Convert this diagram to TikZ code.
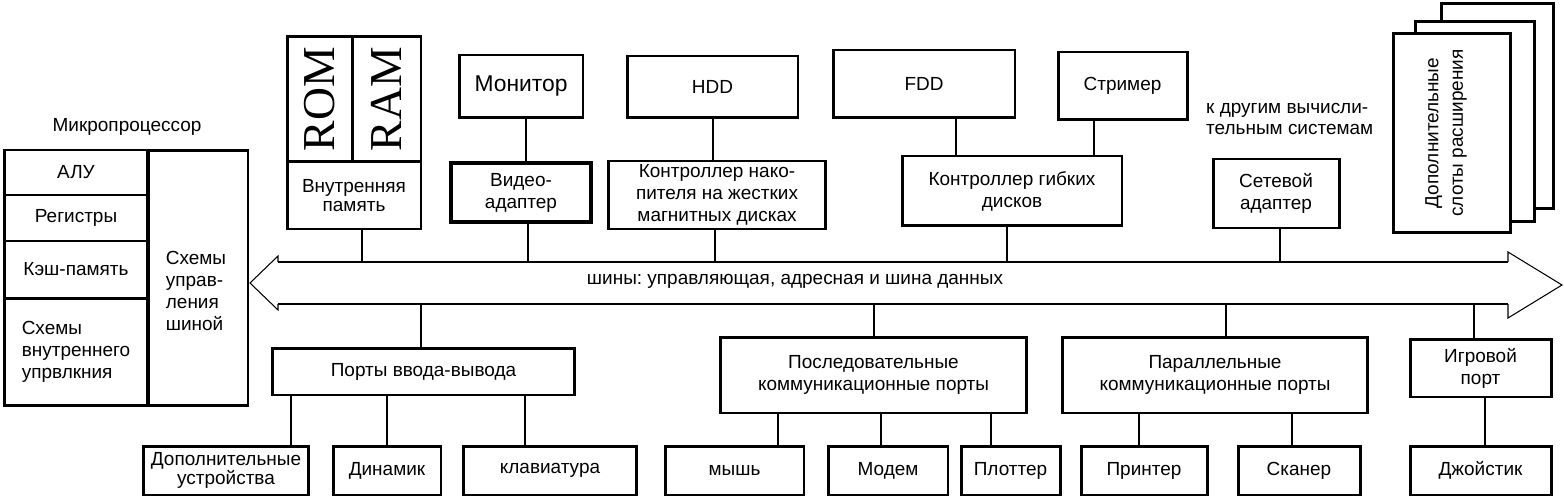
\documentclass[tikz,border=0pt]{standalone}
\usepackage{fontspec}
\setmainfont{Liberation Sans}
\newfontfamily\romfont{Liberation Serif}
\frenchspacing

\begin{document}
\begin{tikzpicture}[x=0.02cm,y=-0.02cm,font=\fontsize{10.8}{12.5}\selectfont,
    blk/.style={draw,line width=1.7pt,fill=white,align=center,inner sep=1pt},
    wire/.style={line width=0.8pt},
    tight/.style={font=\fontsize{10.8}{10.6}\selectfont}]
    \useasboundingbox (0,0) rectangle (1564,503);

    % microprocessor
    \node (cpulbl) at (127,127) {Микропроцессор};
    \node[blk,minimum width=2.88cm,minimum height=0.9cm] (alu) at (76,172.5) {АЛУ};
    \node[blk,minimum width=2.88cm,minimum height=0.92cm] (reg) at (76,218) {Регистры};
    \node[blk,minimum width=2.88cm,minimum height=1.14cm] (cache) at (76,269.5) {Кэш-память};
    \node[blk,minimum width=2.88cm,minimum height=2.16cm,align=left] (intctl) at (76,352) {Схемы\\внутреннего\\упрвлкния};
    \node[blk,minimum width=2cm,minimum height=5.12cm] (busctl) at (198,278) {};
    \node[align=left] (busctltxt) at (196,291) {Схемы\\управ-\\ления\\шиной};

    % memory
    \node[blk,minimum width=1.3cm,minimum height=2.52cm] (rom) at (319.5,99) {};
    \node[blk,minimum width=1.38cm,minimum height=2.52cm] (ram) at (386.5,99) {};
    \node[rotate=90,font=\romfont\fontsize{26}{26}\selectfont] (romtxt) at (rom.center) {ROM};
    \node[rotate=90,font=\romfont\fontsize{26}{26}\selectfont] (ramtxt) at (ram.center) {RAM};
    \node[blk,tight,minimum width=2.68cm,minimum height=1.34cm] (mem) at (354,195.5) {Внутренняя\\память};

    % top devices and controllers
    \node[blk,minimum width=2.48cm,minimum height=1.26cm,font=\fontsize{13}{14}\selectfont] (mon) at (521,86.5) {Монитор};
    \node[blk,line width=2.3pt,minimum width=2.8cm,minimum height=1.18cm] (video) at (521,192.5) {Видео-\\адаптер};
    \node[blk,minimum width=3.42cm,minimum height=1.24cm] (hdd) at (712.5,87) {HDD};
    \node[blk,minimum width=4.36cm,minimum height=1.36cm] (hddctl) at (717,195) {Контроллер нако-\\пителя на жестких\\магнитных дисках};
    \node[blk,minimum width=3.64cm,minimum height=1.36cm] (fdd) at (924,84) {FDD};
    \node[blk,minimum width=2.58cm,minimum height=1.36cm] (strm) at (1122.5,86) {Стример};
    \node[blk,minimum width=4.4cm,minimum height=1.4cm] (fddctl) at (1012,191) {Контроллер гибких\\дисков};
    \node[align=left,anchor=west] (nettxt) at (1200,119) {к другим вычисли-\\тельным системам};
    \node[blk,minimum width=2.52cm,minimum height=1.38cm] (net) at (1276,193.5) {Сетевой\\адаптер};

    % expansion slots
    \node[blk,minimum width=2.24cm,minimum height=4.12cm] (slot3) at (1497,106) {};
    \node[blk,minimum width=2.38cm,minimum height=4.02cm] (slot2) at (1474.5,121.5) {};
    \node[blk,minimum width=2.34cm,minimum height=4cm] (slot1) at (1451.5,133) {};
    \node[rotate=90,align=center,font=\fontsize{10.8}{14}\selectfont] (slottxt) at (1446,133) {Дополнительные\\слоты расширения};

    % bus
    \coordinate (bustop) at (0,262);
    \coordinate (busbot) at (0,304);
    \draw[line width=1.1pt] (278,0 |- bustop) -- (1508,0 |- bustop) (278,0 |- busbot) -- (1508,0 |- busbot);
    \draw[line width=0.6pt] (278,262) -- (278,256) -- (250,283) -- (278,310) -- (278,304)
        (1508,262) -- (1508,252) -- (1562,285) -- (1508,318) -- (1508,304);
    \node (bustxt) at (795,281) {шины: управляющая, адресная и шина данных};

    % ports
    \node[blk,minimum width=6.06cm,minimum height=0.94cm] (io) at (423.5,371.5) {Порты ввода-вывода};
    \node[blk,minimum width=6.14cm,minimum height=1.52cm] (ser) at (873.5,375) {Последовательные\\коммуникационные порты};
    \node[blk,minimum width=6.12cm,minimum height=1.52cm] (par) at (1215,375) {Параллельные\\коммуникационные порты};
    \node[blk,minimum width=2.82cm,minimum height=1.16cm] (game) at (1480.5,368) {Игровой\\порт};

    % peripheral devices
    \node[blk,tight,minimum width=3.32cm,minimum height=0.98cm] (extra) at (226,470.5) {Дополнительные\\устройства};
    \node[blk,minimum width=2.16cm,minimum height=0.98cm] (spk) at (387,470.5) {Динамик};
    \node[blk,minimum width=3.48cm,minimum height=0.98cm] (kbd) at (550,470.5) {клавиатура};
    \node[blk,minimum width=2.78cm,minimum height=0.98cm] (mouse) at (734.5,470.5) {мышь};
    \node[blk,minimum width=2.4cm,minimum height=0.98cm] (modem) at (888,470.5) {Модем};
    \node[blk,minimum width=1.98cm,minimum height=0.98cm] (plot) at (1010.5,470.5) {Плоттер};
    \node[blk,minimum width=2.52cm,minimum height=0.98cm] (prn) at (1144,470.5) {Принтер};
    \node[blk,minimum width=2.44cm,minimum height=0.98cm] (scan) at (1299,470.5) {Сканер};
    \node[blk,minimum width=2.82cm,minimum height=0.98cm] (joy) at (1480.5,470.5) {Джойстик};

    % connections above the bus
    \draw[wire] (362,0 |- mem.south) -- (362,0 |- bustop);
    \draw[wire] (526,0 |- mon.south) -- (526,0 |- video.north);
    \draw[wire] (528,0 |- video.south) -- (528,0 |- bustop);
    \draw[wire] (713,0 |- hdd.south) -- (713,0 |- hddctl.north);
    \draw[wire] (715,0 |- hddctl.south) -- (715,0 |- bustop);
    \draw[wire] (956,0 |- fdd.south) -- (956,0 |- fddctl.north);
    \draw[wire] (1094,0 |- strm.south) -- (1094,0 |- fddctl.north);
    \draw[wire] (1007,0 |- fddctl.south) -- (1007,0 |- bustop);
    \draw[wire] (1280,0 |- net.south) -- (1280,0 |- bustop);

    % connections below the bus
    \draw[wire] (421,0 |- busbot) -- (421,0 |- io.north);
    \draw[wire] (874,0 |- busbot) -- (874,0 |- ser.north);
    \draw[wire] (1226,0 |- busbot) -- (1226,0 |- par.north);
    \draw[wire] (1474,0 |- busbot) -- (1474,0 |- game.north);
    \draw[wire] (291,0 |- io.south) -- (291,0 |- extra.north);
    \draw[wire] (387,0 |- io.south) -- (387,0 |- spk.north);
    \draw[wire] (525,0 |- io.south) -- (525,0 |- kbd.north);
    \draw[wire] (778,0 |- ser.south) -- (778,0 |- mouse.north);
    \draw[wire] (881,0 |- ser.south) -- (881,0 |- modem.north);
    \draw[wire] (991,0 |- ser.south) -- (991,0 |- plot.north);
    \draw[wire] (1139,0 |- par.south) -- (1139,0 |- prn.north);
    \draw[wire] (1292,0 |- par.south) -- (1292,0 |- scan.north);
    \draw[wire] (1485,0 |- game.south) -- (1485,0 |- joy.north);
\end{tikzpicture}
\end{document}
